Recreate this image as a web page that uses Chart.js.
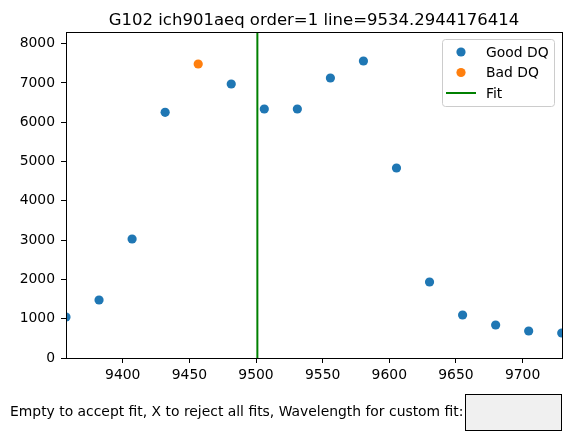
<!DOCTYPE html>
<html>
<head>
<meta charset="utf-8">
<script src="https://cdn.jsdelivr.net/npm/chart.js@4.4.1/dist/chart.umd.min.js"></script>
<style>
  body { margin: 0; background: #fff; }
  #wrap { position: relative; width: 570px; height: 445px; font-family: "DejaVu Sans", sans-serif; }
  #prompt { position: absolute; left: 10px; top: 403px; font-size: 13.9px; color: #000; white-space: nowrap; }
  #box { position: absolute; left: 465px; top: 394px; width: 95px; height: 35px; background: #f0f0f0; border: 1.3px solid #000; }
</style>
</head>
<body>
<div id="wrap">
  <canvas id="myChart" width="570" height="445"></canvas>
  <div id="prompt">Empty to accept fit, X to reject all fits, Wavelength for custom fit:</div>
  <div id="box"></div>
</div>
<script>
const title = 'G102 ich901aeq order=1 line=9534.2944176414';
const wavelengths = [9357.4, 9382.2, 9407.0, 9431.8, 9456.6, 9481.4, 9506.2, 9531.0, 9555.8, 9580.6, 9605.4, 9630.2, 9655.0, 9679.8, 9704.6, 9729.4];
const fluxes = [1043, 1476, 3028, 6250, 7481, 6972, 6336, 6336, 7125, 7557, 4835, 1934, 1094, 840, 687, 636];
const badDQ = [false, false, false, false, true, false, false, false, false, false, false, false, false, false, false, false];
const fitWavelength = 9501;
const xTicks = [9400, 9450, 9500, 9550, 9600, 9650, 9700];
const yTicks = [0, 1000, 2000, 3000, 4000, 5000, 6000, 7000, 8000];
const xRange = [9357.4, 9729.6];
const yRange = [0, 8295];

const goodPts = [];
const badPts = [];
wavelengths.forEach((w, i) => {
  (badDQ[i] ? badPts : goodPts).push({ x: w, y: fluxes[i] });
});

const FONT = { family: 'DejaVu Sans', size: 13.9 };

// frame + title + matplotlib-like legend
const mplLook = {
  id: 'mplLook',
  afterDraw(chart) {
    const c = chart.ctx, a = chart.chartArea;
    c.save();
    c.strokeStyle = '#000';
    c.lineWidth = 1;
    c.strokeRect(Math.round(a.left) + 0.5, Math.round(a.top) + 0.5, Math.round(a.right - a.left), Math.round(a.bottom - a.top));
    c.fillStyle = '#000';
    c.font = '16.5px "DejaVu Sans"';
    c.textAlign = 'center';
    c.textBaseline = 'alphabetic';
    c.fillText(title, (a.left + a.right) / 2, 25);

    // legend
    const lx = 442, ly = 39, lw = 112, lh = 67;
    c.beginPath();
    c.roundRect(lx + 0.5, ly + 0.5, lw, lh, 3);
    c.fillStyle = 'rgba(255,255,255,0.8)';
    c.fill();
    c.strokeStyle = '#cccccc';
    c.stroke();
    c.font = '13.9px "DejaVu Sans"';
    c.textAlign = 'left';
    c.textBaseline = 'middle';
    chart.data.datasets.forEach((ds, i) => {
      const y = 52 + i * 20.5;
      if (ds.showLine) {
        c.strokeStyle = ds.borderColor;
        c.lineWidth = ds.borderWidth;
        c.beginPath();
        c.moveTo(446, y);
        c.lineTo(476, y);
        c.stroke();
      } else {
        c.fillStyle = ds.backgroundColor;
        c.beginPath();
        c.arc(461, y, 4.6, 0, Math.PI * 2);
        c.fill();
      }
      c.fillStyle = '#000';
      c.fillText(ds.label, 486, y + 1);
    });
    c.restore();
  }
};

const ctx = document.getElementById('myChart');
new Chart(ctx, {
  type: 'scatter',
  data: {
    datasets: [
      { label: 'Good DQ', data: goodPts, backgroundColor: '#1f77b4', borderWidth: 0, pointRadius: 4.6, pointHoverRadius: 4.6 },
      { label: 'Bad DQ', data: badPts, backgroundColor: '#ff7f0e', borderWidth: 0, pointRadius: 4.6, pointHoverRadius: 4.6 },
      { label: 'Fit', data: [{ x: fitWavelength, y: yRange[0] }, { x: fitWavelength, y: yRange[1] }],
        showLine: true, borderColor: '#008000', borderWidth: 2, pointRadius: 0, backgroundColor: '#008000' }
    ]
  },
  options: {
    responsive: false,
    animation: false,
    layout: { padding: { left: 0, right: 8, top: 32, bottom: 57 } },
    plugins: { legend: { display: false }, tooltip: { enabled: false } },
    scales: {
      x: {
        type: 'linear', min: xRange[0], max: xRange[1],
        afterBuildTicks: (s) => { s.ticks = xTicks.map(v => ({ value: v })); },
        afterFit: (s) => { s.height = 30; },
        ticks: { color: '#000', font: FONT, padding: 4, maxRotation: 0, autoSkip: false, callback: v => String(v) },
        grid: { drawOnChartArea: false, drawTicks: true, tickLength: 5, color: '#000' },
        border: { display: false }
      },
      y: {
        min: yRange[0], max: yRange[1],
        afterBuildTicks: (s) => { s.ticks = yTicks.map(v => ({ value: v })); },
        afterFit: (s) => { s.width = 66; },
        ticks: { color: '#000', font: FONT, padding: 6, autoSkip: false, callback: v => String(v) },
        grid: { drawOnChartArea: false, drawTicks: true, tickLength: 5, color: '#000' },
        border: { display: false }
      }
    }
  },
  plugins: [mplLook]
});
</script>
</body>
</html>
